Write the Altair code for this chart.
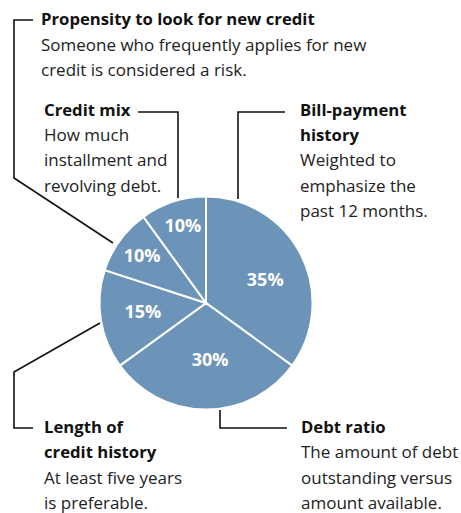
import altair as alt
import pandas as pd

# ---- data ----
factors = ["Bill-payment history", "Debt ratio", "Length of credit history",
           "Propensity to look for new credit", "Credit mix"]
shares = [35, 30, 15, 10, 10]
pct_labels = ["35%", "30%", "15%", "10%", "10%"]

# annotation texts (heading lines, body lines)
ann_lines = [
    ("Propensity to look for new credit", "b"),
    ("Someone who frequently applies for new", "r"),
    ("credit is considered a risk.", "r"),
    ("Credit mix", "b"),
    ("How much", "r"),
    ("installment and", "r"),
    ("revolving debt.", "r"),
    ("Bill-payment", "b"),
    ("history", "b"),
    ("Weighted to", "r"),
    ("emphasize the", "r"),
    ("past 12 months.", "r"),
    ("Length of", "b"),
    ("credit history", "b"),
    ("At least five years", "r"),
    ("is preferable.", "r"),
    ("Debt ratio", "b"),
    ("The amount of debt", "r"),
    ("outstanding versus", "r"),
    ("amount available.", "r"),
]

# ---- layout (pixel positions) ----
W, H = 461, 513
CX, CY, R = 206, 303, 106.5
label_r = [63, 58, 64, 79, 79]
label_shift = [7, -4, 0, 0, 1]   # degrees nudge of each percent label
ann_x = [41, 41, 41, 44, 44, 44, 44, 300, 300, 300, 300, 300,
         44, 44, 44, 44, 301, 301, 301, 301]
ann_y = [25, 50.5, 76, 116, 141, 166, 191.5, 116, 141, 166, 191.5, 217,
         433, 458, 483.5, 509, 433, 458, 483.5, 509]
leaders = {
    "prop": [(113, 243), (14, 178), (14, 20), (33, 20)],
    "mix": [(138, 112), (178, 112), (178, 198)],
    "bill": [(285, 112), (238, 112), (238, 199)],
    "len": [(100, 323), (14, 372), (14, 428), (33, 428)],
    "debt": [(220, 410), (220, 428), (287, 428)],
}

FONT = "Open Sans"
BLUE = "#6c94b8"

pie_df = pd.DataFrame({
    "factor": factors, "share": shares, "label": pct_labels,
    "idx": list(range(len(factors))), "lr": label_r, "sh": label_shift,
})

ann_df = pd.DataFrame({
    "text": [t for t, _ in ann_lines],
    "w": [w for _, w in ann_lines],
    "x": ann_x, "y": ann_y,
})

rows = []
for g, pts in leaders.items():
    for k, (px, py) in enumerate(pts):
        rows.append({"g": g, "k": k, "px": px, "py": py})
lead_df = pd.DataFrame(rows)

pie = alt.Chart(pie_df).mark_arc(outerRadius=R, stroke="white", strokeWidth=2,
                                 color=BLUE).encode(
    theta=alt.Theta("share:Q", stack=True),
    order=alt.Order("idx:Q"),
    x=alt.value(CX), y=alt.value(CY),
)

pct = alt.Chart(pie_df).transform_window(
    cum="sum(share)", sort=[alt.SortField("idx")]
).transform_joinaggregate(
    tot="sum(share)"
).transform_calculate(
    ang="(datum.cum - datum.share/2) / datum.tot * 2 * PI + datum.sh * PI / 180",
).transform_calculate(
    lx=f"{CX} + datum.lr * sin(datum.ang)",
    ly=f"{CY} - datum.lr * cos(datum.ang)",
).mark_text(font=FONT, fontSize=18, fontWeight="bold", color="white",
            align="center", baseline="middle").encode(
    x=alt.X("lx:Q", scale=None, axis=None),
    y=alt.Y("ly:Q", scale=None, axis=None),
    text="label:N",
)

lines = alt.Chart(lead_df).mark_line(color="#111", strokeWidth=1.6).encode(
    x=alt.X("px:Q", scale=None, axis=None),
    y=alt.Y("py:Q", scale=None, axis=None),
    detail="g:N",
    order="k:Q",
)

txt_b = alt.Chart(ann_df).transform_filter(alt.datum.w == "b").mark_text(
    font=FONT, fontSize=16.7, fontWeight="bold", color="#111",
    align="left", baseline="alphabetic").encode(
    x=alt.X("x:Q", scale=None, axis=None),
    y=alt.Y("y:Q", scale=None, axis=None),
    text="text:N",
)
txt_r = alt.Chart(ann_df).transform_filter(alt.datum.w == "r").mark_text(
    font=FONT, fontSize=17, color="#222",
    align="left", baseline="alphabetic").encode(
    x=alt.X("x:Q", scale=None, axis=None),
    y=alt.Y("y:Q", scale=None, axis=None),
    text="text:N",
)

chart = alt.layer(pie, pct, lines, txt_b, txt_r).properties(
    width=W, height=H,
    autosize=alt.AutoSizeParams(type="fit", contains="padding"),
    padding=0,
    background="white",
).configure_view(stroke=None)

chart.save("out.html", embed_options={"renderer": "svg", "actions": False})
